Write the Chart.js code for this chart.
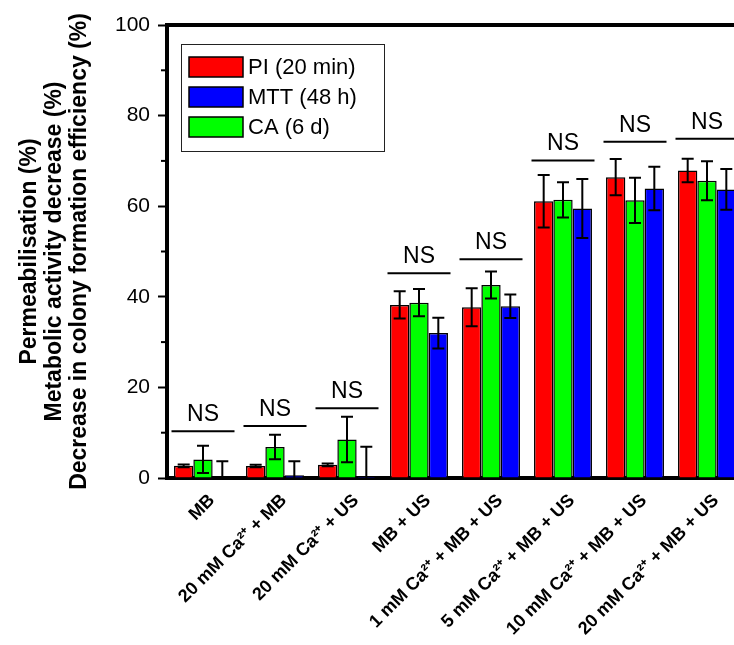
<!DOCTYPE html>
<html>
<head>
<meta charset="utf-8">
<script src="https://cdn.jsdelivr.net/npm/chart.js@4.4.1/dist/chart.umd.min.js"></script>
<style>
html, body { margin: 0; padding: 0; background: #fff; overflow: hidden; }
</style>
</head>
<body>
<canvas id="chart" width="743" height="645"></canvas>
<script>
var groups = ['MB', '20 mM Ca²⁺ + MB', '20 mM Ca²⁺ + US', 'MB + US', '1 mM Ca²⁺ + MB + US',
              '5 mM Ca²⁺ + MB + US', '10 mM Ca²⁺ + MB + US', '20 mM Ca²⁺ + MB + US'];

var piValues  = [2.7, 2.65, 2.9, 38.2, 37.7, 61.1, 66.4, 67.9];
var piErrors  = [0.3, 0.3, 0.3, 3.0, 4.2, 5.8, 4.0, 2.6];
var caValues  = [4.1, 6.85, 8.5, 38.7, 42.6, 61.4, 61.3, 65.6];
var caErrors  = [3.0, 2.7, 5.0, 3.0, 3.0, 3.9, 5.0, 4.3];
var mttValues = [0.1, 0.6, 0.3, 32.0, 37.9, 59.5, 63.9, 63.7];
var mttErrors = [3.6, 3.1, 6.6, 3.4, 2.6, 6.5, 4.8, 4.5];

// height of the "NS" bracket above each group
var nsLevels = [10.3, 11.5, 15.4, 45.2, 48.3, 70.1, 74.2, 74.9];

var yTicks = [0, 20, 40, 60, 80, 100];
var yMinorTicks = [10, 30, 50, 70, 90];

var FONT = 'Arial, "Liberation Sans", sans-serif';
Chart.defaults.font.family = FONT;
Chart.defaults.color = '#000';

// legend lists PI, MTT, CA while the bars run PI, CA, MTT
var legendOrder = [0, 2, 1];

var errorBars = {
    id: 'errorBars',
    afterDatasetsDraw: function(chart) {
        var ctx = chart.ctx, y = chart.scales.y, a = chart.chartArea;
        ctx.save();
        ctx.beginPath();
        ctx.rect(a.left, a.top, a.right - a.left, a.bottom - a.top);
        ctx.clip();
        ctx.strokeStyle = '#000';
        ctx.lineWidth = 2;
        chart.data.datasets.forEach(function(ds, di) {
            var meta = chart.getDatasetMeta(di);
            meta.data.forEach(function(bar, i) {
                var v = ds.data[i], e = ds.errors[i];
                var top = y.getPixelForValue(v + e), bot = y.getPixelForValue(v - e);
                ctx.beginPath();
                ctx.moveTo(bar.x, top); ctx.lineTo(bar.x, bot);
                ctx.moveTo(bar.x - 6, top); ctx.lineTo(bar.x + 6, top);
                ctx.moveTo(bar.x - 6, bot); ctx.lineTo(bar.x + 6, bot);
                ctx.stroke();
            });
        });
        ctx.restore();
    }
};

var extras = {
    id: 'extras',
    afterDraw: function(chart) {
        var ctx = chart.ctx, x = chart.scales.x, y = chart.scales.y, a = chart.chartArea;
        ctx.save();
        // minor ticks
        ctx.strokeStyle = '#000';
        ctx.lineWidth = 2;
        yMinorTicks.forEach(function(v) {
            var py = y.getPixelForValue(v);
            ctx.beginPath();
            ctx.moveTo(a.left - 6, py); ctx.lineTo(a.left, py);
            ctx.stroke();
        });
        // NS brackets
        ctx.font = '23px ' + FONT;
        ctx.textAlign = 'center';
        ctx.textBaseline = 'alphabetic';
        ctx.fillStyle = '#000';
        nsLevels.forEach(function(v, i) {
            var px = x.getPixelForValue(i), py = y.getPixelForValue(v);
            ctx.beginPath();
            ctx.moveTo(px - 31.5, py); ctx.lineTo(px + 31.5, py);
            ctx.stroke();
            ctx.fillText('NS', px, py - 10);
        });
        // legend
        var lx = a.left + 14, ly = a.top + 19;
        ctx.fillStyle = '#fff';
        ctx.fillRect(lx, ly, 203, 107);
        ctx.lineWidth = 1;
        ctx.strokeStyle = '#222';
        ctx.strokeRect(lx + 0.5, ly + 0.5, 203, 107);
        ctx.font = '22px ' + FONT;
        ctx.textAlign = 'left';
        ctx.textBaseline = 'middle';
        legendOrder.forEach(function(di, k) {
            var ds = chart.data.datasets[di];
            var sy = ly + 13 + k * 30;
            ctx.fillStyle = ds.backgroundColor;
            ctx.fillRect(lx + 8, sy, 54, 20);
            ctx.lineWidth = 1.5;
            ctx.strokeStyle = '#000';
            ctx.strokeRect(lx + 8, sy, 54, 20);
            ctx.fillStyle = '#000';
            ctx.fillText(ds.label, lx + 67, sy + 11);
        });
        ctx.restore();
    }
};

new Chart(document.getElementById('chart'), {
    type: 'bar',
    data: {
        labels: groups,
        datasets: [{
            label: 'PI (20 min)',
            data: piValues,
            errors: piErrors,
            backgroundColor: '#ff0000'
        }, {
            label: 'CA (6 d)',
            data: caValues,
            errors: caErrors,
            backgroundColor: '#00ff00'
        }, {
            label: 'MTT (48 h)',
            data: mttValues,
            errors: mttErrors,
            backgroundColor: '#0000ff'
        }]
    },
    options: {
        responsive: false,
        animation: false,
        layout: { padding: 0 },
        datasets: {
            bar: {
                borderColor: '#000',
                borderWidth: 1.5,
                barPercentage: 1,
                categoryPercentage: 0.805
            }
        },
        plugins: {
            legend: { display: false },
            tooltip: { enabled: false }
        },
        scales: {
            x: {
                position: 'bottom',
                z: 1,
                grid: { display: false, drawTicks: false },
                border: { color: '#000', width: 4 },
                ticks: {
                    autoSkip: false,
                    maxRotation: 45,
                    minRotation: 45,
                    padding: 12,
                    labelOffset: 9,
                    color: '#000',
                    font: { size: 18, weight: 'bold' }
                },
                afterFit: function(s) { s.height = 167; }
            },
            xTop: {
                type: 'category',
                position: 'top',
                z: 1,
                grid: { display: false, drawTicks: false },
                border: { color: '#000', width: 4 },
                ticks: { display: false },
                afterFit: function(s) { s.height = 25; }
            },
            y: {
                min: 0,
                max: 100,
                z: 1,
                afterBuildTicks: function(s) {
                    s.ticks = yTicks.map(function(v) { return { value: v }; });
                },
                grid: { drawOnChartArea: false, tickLength: 9, tickWidth: 2, tickColor: '#000' },
                border: { color: '#000', width: 4 },
                ticks: { padding: 8, color: '#000', font: { size: 21 } },
                title: {
                    display: true,
                    text: ['Permeabilisation (%)', 'Metabolic activity decrease (%)',
                           'Decrease in colony formation efficiency (%)'],
                    color: '#000',
                    font: { size: 23, weight: 'bold', lineHeight: '25px' },
                    padding: { top: 17.5, bottom: 0 }
                },
                afterFit: function(s) { s.width = 167; }
            }
        }
    },
    plugins: [errorBars, extras]
});
</script>
</body>
</html>
